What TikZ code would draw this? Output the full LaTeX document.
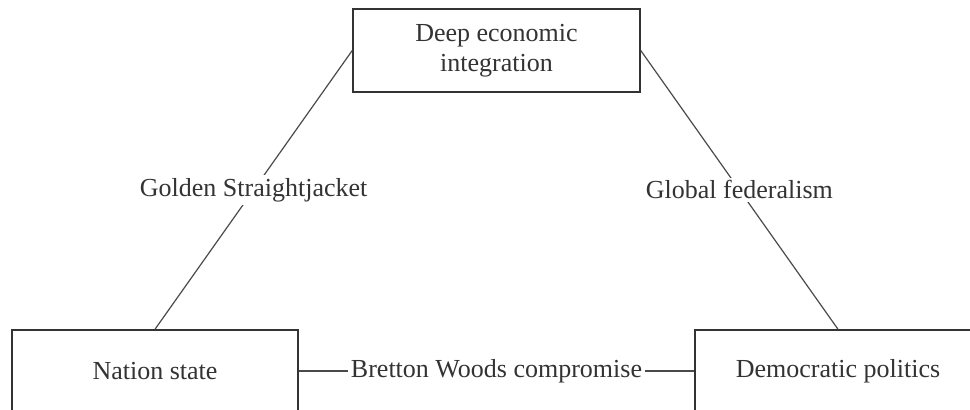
\documentclass[tikz,border=0pt]{standalone}
\usepackage{fontspec}
\setmainfont{Liberation Serif}
\usepackage{xcolor}
\usepackage{tikz}
\usetikzlibrary{positioning}
\definecolor{ink}{HTML}{333333}
\definecolor{wire}{HTML}{4A4A4A}

\begin{document}
\begin{tikzpicture}[
  x=0.5pt, y=-0.5pt,
  font=\fontsize{13}{15}\selectfont,
  corner/.style={draw=ink, line width=0.75pt, align=center, text=ink, inner sep=0pt, minimum width=143.5pt, minimum height=41.5pt, fill=white},
  link/.style={draw=wire, line width=0.6pt},
  linklabel/.style={fill=white, inner sep=1.5pt, text=ink}
]

\useasboundingbox (0,0) rectangle (970,410);
\clip (0,0) rectangle (970,410);

\node[corner] (dei) at (496.5,50.5) {Deep economic\\integration};
\node[corner, minimum width=143pt, minimum height=41pt] (ns) at (155,371) {Nation state};
\node[corner, minimum width=143pt, minimum height=41pt] (dp) at (838,371) {Democratic politics};

\draw[link] (dei.west) -- node[linklabel] {Golden Straightjacket} (ns.north);
\draw[link] (dei.east) -- node[linklabel] {Global federalism} (dp.north);
\draw[link] (ns.east) -- node[linklabel] {Bretton Woods compromise} (dp.west);

\end{tikzpicture}
\end{document}
